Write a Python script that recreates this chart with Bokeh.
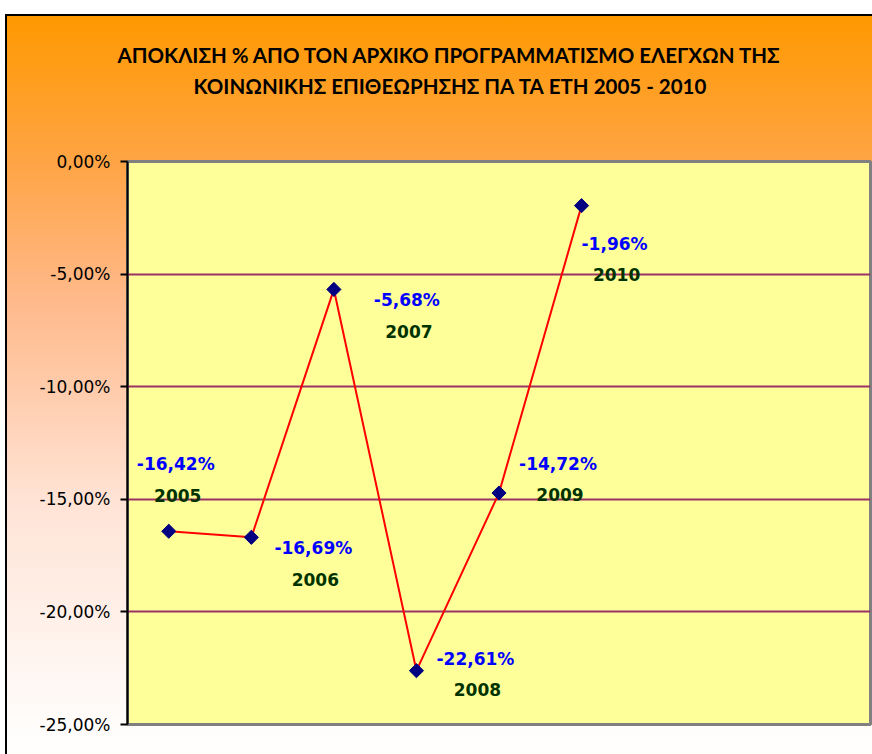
from bokeh.plotting import figure
from bokeh.models import Range1d, FixedTicker, Title, ColumnDataSource
from bokeh.core.properties import value
from bokeh.embed import file_html
from bokeh.resources import INLINE

# ---- data ----
years = ["2005", "2006", "2007", "2008", "2009", "2010"]
deviation = [-16.42, -16.69, -5.68, -22.61, -14.72, -1.96]
value_labels = ["-16,42%", "-16,69%", "-5,68%", "-22,61%", "-14,72%", "-1,96%"]
n_slots = 9  # category slots on the x axis
y_ticks = [0, -5, -10, -15, -20, -25]
y_tick_labels = ["0,00%", "-5,00%", "-10,00%", "-15,00%", "-20,00%", "-25,00%"]
title_lines = ["ΑΠΟΚΛΙΣΗ % ΑΠΟ ΤΟΝ ΑΡΧΙΚΟ ΠΡΟΓΡΑΜΜΑΤΙΣΜΟ ΕΛΕΓΧΩΝ ΤΗΣ",
               "ΚΟΙΝΩΝΙΚΗΣ ΕΠΙΘΕΩΡΗΣΗΣ ΠΑ ΤΑ ΕΤΗ 2005 - 2010"]

# label placement (pixel offsets from each point)
label_dx = [7, 62, 73, 59, 59, 33]
label_dy = [-67, 11, 11, -12, -29, 38]
year_dx = [2, 2, 2, 2, 2, 2]
year_dy = [31, 31, 31, 31, 31, 31]
title_offsets = [-10, 66]  # left offsets of the two title lines

xs = list(range(1, len(years) + 1))

src = ColumnDataSource(dict(
    x=xs, y=deviation, vlab=value_labels, ylab=years,
    vdx=label_dx, vdy=label_dy,
    ydx=[a + b for a, b in zip(label_dx, year_dx)],
    ydy=[a + b for a, b in zip(label_dy, year_dy)],
))

p = figure(width=872, height=754, output_backend="svg", toolbar_location=None,
           x_range=Range1d(0.5, n_slots + 0.5), y_range=Range1d(-25, 0),
           min_border_left=127, min_border_top=161, min_border_right=2,
           min_border_bottom=30)
p.title.visible = False

p.styles = {
    "background": (
        "linear-gradient(#000,#000) 5px 14px / 2px calc(100% - 14px) no-repeat, "
        "linear-gradient(#fff,#fff) 0px 0px / 5px 100% no-repeat, "
        "linear-gradient(to bottom, #ffffff 0px, #ffffff 14px, #000000 14px, #000000 16px, "
        "#FF9900 16px, #FFA444 160px, #FFB98A 300px, #FFE3D5 500px, #FFFEFD 740px)"
    )
}
p.border_fill_color = None
p.background_fill_color = "#FFFF99"
p.outline_line_color = "#808080"
p.outline_line_width = 3

p.xaxis.visible = False
p.xgrid.visible = False

yax = p.yaxis[0]
yax.ticker = FixedTicker(ticks=y_ticks)
yax.major_label_overrides = {t: l for t, l in zip(y_ticks, y_tick_labels)}
yax.axis_line_color = "black"
yax.axis_line_width = 2
yax.major_tick_line_color = "black"
yax.major_tick_line_width = 2
yax.major_tick_out = 7
yax.major_tick_in = 0
yax.minor_tick_line_color = None
yax.major_label_standoff = 10
yax.major_label_text_font = "DejaVu Sans"
yax.major_label_text_font_size = "17px"
yax.major_label_text_color = "black"

p.ygrid.ticker = FixedTicker(ticks=[t for t in y_ticks if t not in (0, -25)])
p.ygrid.grid_line_color = "#993366"
p.ygrid.grid_line_width = 2

p.line("x", "y", source=src, line_color="#FF0000", line_width=2)
p.scatter("x", "y", source=src, marker="square", size=10, angle=0.785398,
          fill_color="#000080", line_color="#000080")

p.text("x", "y", text="vlab", source=src, x_offset="vdx", y_offset="vdy",
       text_font=value("DejaVu Sans"), text_font_style="bold",
       text_font_size="17px", text_color="#0000FF",
       text_align="center", text_baseline="middle")
p.text("x", "y", text="ylab", source=src, x_offset="ydx", y_offset="ydy",
       text_font=value("DejaVu Sans"), text_font_style="bold",
       text_font_size="17px", text_color="#003300",
       text_align="center", text_baseline="middle")

# spacer between frame and title block
p.add_layout(Title(text=" ", text_font_size="1px", standoff=58), "above")
# title lines: added closest-to-frame first
for line, off in reversed(list(zip(title_lines, title_offsets))):
    p.add_layout(Title(text=line, align="left", offset=off, standoff=5,
                       text_font="Lato", text_font_style="bold",
                       text_font_size="20.5px", text_color="black"), "above")

open("out.html", "w").write(file_html(p, INLINE))
